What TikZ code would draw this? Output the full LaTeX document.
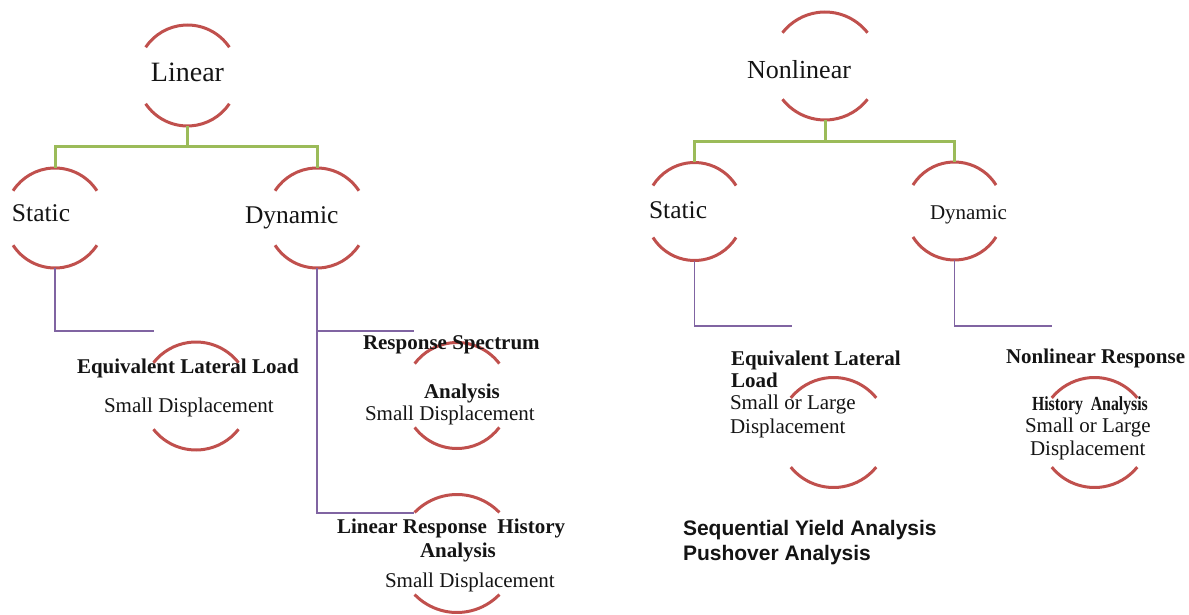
\documentclass[tikz,border=0pt]{standalone}
\usepackage{fontspec}
\setmainfont{Liberation Serif}
\newfontfamily\arialf{Liberation Sans}
\definecolor{arcred}{HTML}{C0504D}
\definecolor{lvlgreen}{HTML}{9BBB59}
\definecolor{linkpurple}{HTML}{8064A2}
\definecolor{inkc}{HTML}{141414}
\newcommand\ringarcs[3]{%
  \pgfmathtruncatemacro\raA{180-#3}%
  \pgfmathtruncatemacro\raB{180+#3}%
  \pgfmathtruncatemacro\raC{360-#3}%
  \draw[arcst] (#1.#3) arc[start angle=#3, end angle=\raA, radius=#2pt];
  \draw[arcst] (#1.\raB) arc[start angle=\raB, end angle=\raC, radius=#2pt];
}
\begin{document}
\begin{tikzpicture}[x=1pt,y=-1pt,
  ring/.style={circle, draw=none, inner sep=0pt, outer sep=0pt, minimum size=#1},
  arcst/.style={draw=arcred, line width=3pt},
  grn/.style={draw=lvlgreen, line width=3pt},
  prp/.style={draw=linkpurple, line width=1.5pt},
  lbl/.style={anchor=base west, inner sep=0pt, outer sep=0pt, text=inkc},
  fbig/.style={font=\fontsize{28}{32}\selectfont},
  fmid/.style={font=\fontsize{25.5}{29}\selectfont},
  fnl/.style={font=\fontsize{26}{30}\selectfont},
  freg/.style={font=\fontsize{21}{24}\selectfont},
  fbold/.style={font=\fontsize{21}{24}\selectfont\bfseries},
  fsans/.style={font=\fontsize{21}{24}\selectfont\arialf\bfseries}]
\useasboundingbox (0,0) rectangle (1189,615);

% ---------- ring nodes (left) ----------
\node[ring=101pt] (lin) at (187.5,75.5) {};
\node[ring=100pt] (st)  at (55,218) {};
\node[ring=100pt] (dy)  at (317,218) {};
\node[ring=108pt] (ell) at (196,396) {};
\node[ring=106pt] (rs)  at (457,395.5) {};
\node[ring=118pt] (lrh) at (457,553.5) {};
% ---------- ring nodes (right) ----------
\node[ring=108pt] (nl)   at (825,66) {};
\node[ring=98pt]  (nst)  at (694.5,211.5) {};
\node[ring=98pt]  (ndy)  at (954.5,211) {};
\node[ring=110pt] (nell) at (833.5,432.5) {};
\node[ring=110pt] (nrh)  at (1094.5,432.5) {};

\ringarcs{lin}{50.5}{34}
\ringarcs{st}{50}{33}
\ringarcs{dy}{50}{33}
\ringarcs{ell}{54}{38}
\ringarcs{rs}{53}{37}
\ringarcs{lrh}{59}{44}
\ringarcs{nl}{54}{38}
\ringarcs{nst}{49}{32}
\ringarcs{ndy}{49}{32}
\ringarcs{nell}{55}{39}
\ringarcs{nrh}{55}{39}

% ---------- green level connectors ----------
\coordinate (jl) at (187.5,147);
\coordinate (jr) at (825,142);
\draw[grn] (lin.south) -- (jl);
\draw[grn] (st.north) |- (jl) -| (dy.north);
\draw[grn] (nl.south) -- (jr);
\draw[grn] (nst.north) |- (jr) -| (ndy.north);

% ---------- purple links ----------
\coordinate (e1) at (154,331);
\coordinate (e2) at (414,331);
\coordinate (e3) at (414,513);
\coordinate (e4) at (792,326);
\coordinate (e5) at (1052,326);
\draw[prp] (st.south) |- (e1);
\draw[prp] (dy.south) |- (e2);
\draw[prp] (dy.south) |- (e3);
\draw[prp] (nst.south) |- (e4);
\draw[prp] (ndy.south) |- (e5);

% ---------- texts (left) ----------
\node[lbl, fbig, anchor=base] (tlin) at (187.5,82) {Linear};
\node[lbl, fmid] (tst) at (12,222) {Static};
\node[lbl, fmid] (tdy) at (245,223) {Dynamic};
\node[lbl, fbold] (tell1) at (77,373) {Equivalent Lateral Load};
\node[lbl, freg]  (tell2) at (104,412) {Small Displacement};
\node[lbl, fbold] (trs1) at (363,349) {Response Spectrum};
\node[lbl, fbold] (trs2) at (424,398) {Analysis};
\node[lbl, freg]  (trs3) at (365,420) {Small Displacement};
\node[lbl, fbold] (tlrh1) at (337,533) {Linear Response\ \ History};
\node[lbl, fbold] (tlrh2) at (420,557) {Analysis};
\node[lbl, freg]  (tlrh3) at (385,587) {Small Displacement};

% ---------- texts (right) ----------
\node[lbl, fnl] (tnl) at (747,79) {Nonlinear};
\node[lbl, fmid] (tnst) at (649,218) {Static};
\node[lbl, freg] (tndy) at (930,219) {Dynamic};
\node[lbl, fbold] (tnell1) at (731,365) {Equivalent Lateral};
\node[lbl, fbold] (tnell2) at (731,387) {Load};
\node[lbl, freg]  (tnell3) at (730,409) {Small or Large};
\node[lbl, freg]  (tnell4) at (730,433) {Displacement};
\node[lbl, fsans] (tseq1) at (683,535) {Sequential Yield Analysis};
\node[lbl, fsans] (tseq2) at (683,560) {Pushover Analysis};
\node[lbl, fbold] (tnrh1) at (1006,363) {Nonlinear Response};
\node[lbl, font=\fontsize{20}{24}\selectfont\bfseries] (tnrh2) at (1032,410) {\scalebox{0.79}[1]{History\ \ Analysis}};
\node[lbl, freg]  (tnrh3) at (1025,432) {Small or Large};
\node[lbl, freg]  (tnrh4) at (1030,455) {Displacement};
\end{tikzpicture}
\end{document}
